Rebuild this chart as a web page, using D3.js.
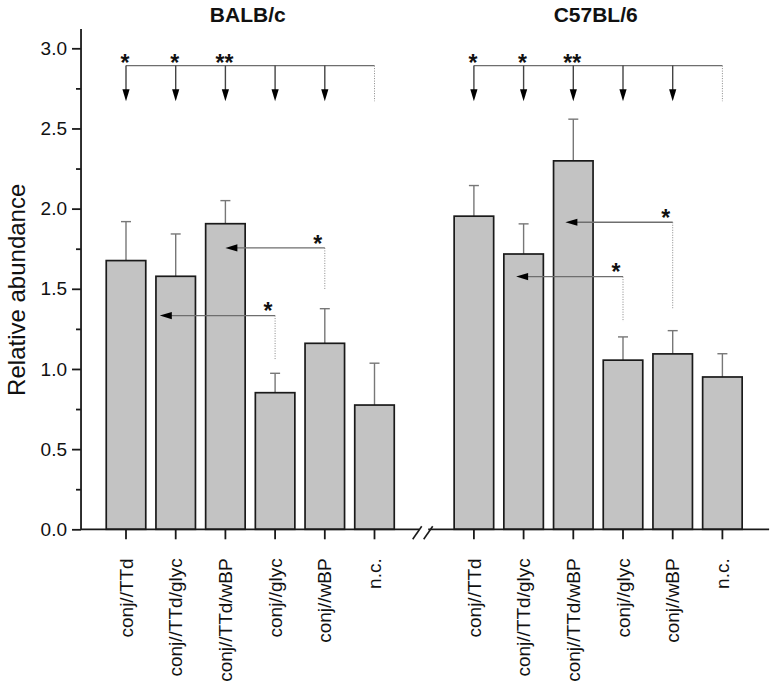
<!DOCTYPE html>
<html>
<head>
<meta charset="utf-8">
<script src="https://cdn.jsdelivr.net/npm/d3@7"></script>
<style>
  body { margin: 0; background: #fff; }
  svg { display: block; font-family: "Liberation Sans", Arial, sans-serif; }
</style>
</head>
<body>
<svg id="chart" width="775" height="687"></svg>
<script>
// ---------- data ----------
const groups = ["BALB/c", "C57BL/6"];
const categories = ["conj//TTd", "conj//TTd/glyc", "conj//TTd/wBP", "conj//glyc", "conj//wBP", "n.c."];
const balbValues = [1.676, 1.578, 1.906, 0.852, 1.160, 0.775];
const balbErrors = [0.243, 0.264, 0.144, 0.121, 0.216, 0.261];
const c57Values  = [1.953, 1.717, 2.298, 1.055, 1.094, 0.950];
const c57Errors  = [0.191, 0.188, 0.260, 0.145, 0.145, 0.145];
const yTicks = [0.0, 0.5, 1.0, 1.5, 2.0, 2.5, 3.0];
const yMinorTicks = [0.25, 0.75, 1.25, 1.75, 2.25, 2.75];
// top comparison bracket (every group member vs n.c.)
const topLineValue = 2.892;
const topArrowTip = 2.67;
const balbTopStars = ["*", "*", "**", "", "", ""];
const c57TopStars  = ["*", "*", "**", "", "", ""];
// pairwise comparisons: from index -> to index (tip shift in category units)
const balbPairs = [
  { from: 4, to: 2, shift: 0.0,   level: 1.755, dotEnd: 1.49,  label: "*" },
  { from: 3, to: 1, shift: -0.32, level: 1.333, dotEnd: 1.06,  label: "*" }
];
const c57Pairs = [
  { from: 4, to: 2, shift: -0.16, level: 1.915, dotEnd: 1.379, label: "*" },
  { from: 3, to: 1, shift: -0.15, level: 1.576, dotEnd: 1.295, label: "*" }
];

// ---------- build ----------
const groupData = [
  { name: groups[0], offset: 0, values: balbValues, errors: balbErrors, stars: balbTopStars, pairs: balbPairs },
  { name: groups[1], offset: 7, values: c57Values, errors: c57Errors, stars: c57TopStars, pairs: c57Pairs }
];

const svg = d3.select("#chart");
const x = d3.scaleLinear().domain([0, 12]).range([126, 722.4]);
const y = d3.scaleLinear().domain([0, 3]).range([529.3, 48.3]);
const step = x(1) - x(0);
const barW = step * 0.795;
const axisLeft = x(-0.905), axisRight = x(12.94);
const breakX = x(5.98);

const ink = "#1a1a1a";
const grey = "#6e6e6e";
const starSize = 23;
const starMid = starSize * 0.56; // baseline offset so glyph centre sits at given y

// bars
groupData.forEach(g => {
  const gg = svg.append("g");
  const rows = g.values.map((v, i) => ({ v, e: g.errors[i], s: g.offset + i }));
  // error bars (upper only)
  gg.selectAll("line.err").data(rows).join("line")
    .attr("x1", d => x(d.s)).attr("x2", d => x(d.s))
    .attr("y1", d => y(d.v)).attr("y2", d => y(d.v + d.e))
    .attr("stroke", "#777").attr("stroke-width", 1.4);
  gg.selectAll("line.cap").data(rows).join("line")
    .attr("x1", d => x(d.s) - 5).attr("x2", d => x(d.s) + 5)
    .attr("y1", d => y(d.v + d.e)).attr("y2", d => y(d.v + d.e))
    .attr("stroke", "#777").attr("stroke-width", 1.4);
  gg.selectAll("rect").data(rows).join("rect")
    .attr("x", d => x(d.s) - barW / 2).attr("width", barW)
    .attr("y", d => y(d.v)).attr("height", d => y(0) - y(d.v))
    .attr("fill", "#c3c3c3").attr("stroke", ink).attr("stroke-width", 1.7);

  // title
  svg.append("text").attr("x", x(g.offset + 2.45)).attr("y", 22)
    .attr("text-anchor", "middle").attr("font-weight", "bold").attr("font-size", 21)
    .attr("fill", "#111").text(g.name);

  // top bracket
  const ly = y(topLineValue), ty = y(topArrowTip);
  svg.append("line").attr("x1", x(g.offset)).attr("x2", x(g.offset + 5))
    .attr("y1", ly).attr("y2", ly).attr("stroke", grey).attr("stroke-width", 1.3);
  g.stars.forEach((s, i) => {
    const cx = x(g.offset + i);
    if (i < 5) {
      svg.append("line").attr("x1", cx).attr("x2", cx).attr("y1", ly).attr("y2", ty - 10)
        .attr("stroke", "#444").attr("stroke-width", 1.4);
      svg.append("path").attr("d", `M${cx - 3.6},${ty - 12}L${cx + 3.6},${ty - 12}L${cx},${ty}Z`).attr("fill", "#000");
    } else {
      svg.append("line").attr("x1", cx).attr("x2", cx).attr("y1", ly).attr("y2", ty)
        .attr("stroke", "#888").attr("stroke-width", 1).attr("stroke-dasharray", "1,1.5");
    }
    if (s) {
      svg.append("text").attr("x", cx - 1).attr("y", ly - 7 + starMid)
        .attr("text-anchor", "middle").attr("font-size", starSize).attr("font-weight", "bold")
        .attr("fill", "#111").text(s);
    }
  });

  // pairwise brackets
  g.pairs.forEach(p => {
    const fx = x(g.offset + p.from);
    const tx = x(g.offset + p.to + p.shift);
    const py = y(p.level);
    svg.append("line").attr("x1", fx).attr("x2", fx).attr("y1", py).attr("y2", y(p.dotEnd))
      .attr("stroke", "#888").attr("stroke-width", 1).attr("stroke-dasharray", "1,1.5");
    svg.append("line").attr("x1", fx).attr("x2", tx + 10).attr("y1", py).attr("y2", py)
      .attr("stroke", grey).attr("stroke-width", 1.3);
    svg.append("path").attr("d", `M${tx + 12},${py - 3.6}L${tx + 12},${py + 3.6}L${tx},${py}Z`).attr("fill", "#000");
    svg.append("text").attr("x", fx - 7).attr("y", py - 9 + starMid)
      .attr("text-anchor", "middle").attr("font-size", starSize).attr("font-weight", "bold")
      .attr("fill", "#111").text(p.label);
  });
});

// y axis
const yAxis = d3.axisLeft(y).tickValues(yTicks).tickFormat(d3.format(".1f")).tickSize(9).tickPadding(5);
const ya = svg.append("g").attr("transform", `translate(${axisLeft},0)`).call(yAxis);
ya.select(".domain").remove();
ya.selectAll(".tick line").attr("stroke", ink).attr("stroke-width", 1.8);
ya.selectAll(".tick text").attr("font-size", 19).attr("fill", "#111").attr("font-family", "Liberation Sans, Arial, sans-serif");
const yMinor = d3.axisLeft(y).tickValues(yMinorTicks).tickSize(5).tickFormat("");
const ym = svg.append("g").attr("transform", `translate(${axisLeft},0)`).call(yMinor);
ym.select(".domain").remove();
ym.selectAll(".tick line").attr("stroke", ink).attr("stroke-width", 1.8);
svg.append("line").attr("x1", axisLeft).attr("x2", axisLeft).attr("y1", y(0)).attr("y2", y(3.12))
  .attr("stroke", ink).attr("stroke-width", 1.8);

// y label
svg.append("text").attr("transform", `translate(25,${y(1.5) + 1}) rotate(-90)`)
  .attr("text-anchor", "middle").attr("font-size", 24).attr("fill", "#111").text("Relative abundance");

// x axis with break
svg.append("line").attr("x1", axisLeft).attr("x2", breakX - 4).attr("y1", y(0)).attr("y2", y(0))
  .attr("stroke", ink).attr("stroke-width", 1.8);
svg.append("line").attr("x1", breakX + 5).attr("x2", axisRight).attr("y1", y(0)).attr("y2", y(0))
  .attr("stroke", ink).attr("stroke-width", 1.8);
[-6, 5].forEach(o => {
  svg.append("line").attr("x1", breakX + o - 4.5).attr("x2", breakX + o + 4.5)
    .attr("y1", y(0) + 10).attr("y2", y(0) - 3)
    .attr("stroke", ink).attr("stroke-width", 1.6);
});

// x ticks & labels
groupData.forEach(g => {
  categories.forEach((c, i) => {
    const cx = x(g.offset + i);
    svg.append("line").attr("x1", cx).attr("x2", cx).attr("y1", y(0)).attr("y2", y(0) + 10)
      .attr("stroke", ink).attr("stroke-width", 1.8);
    svg.append("text").attr("transform", `translate(${cx},${y(0) + 29}) rotate(-90)`)
      .attr("text-anchor", "end").attr("dy", "0.35em").attr("font-size", 19).attr("fill", "#111").text(c);
  });
});
</script>
</body>
</html>
